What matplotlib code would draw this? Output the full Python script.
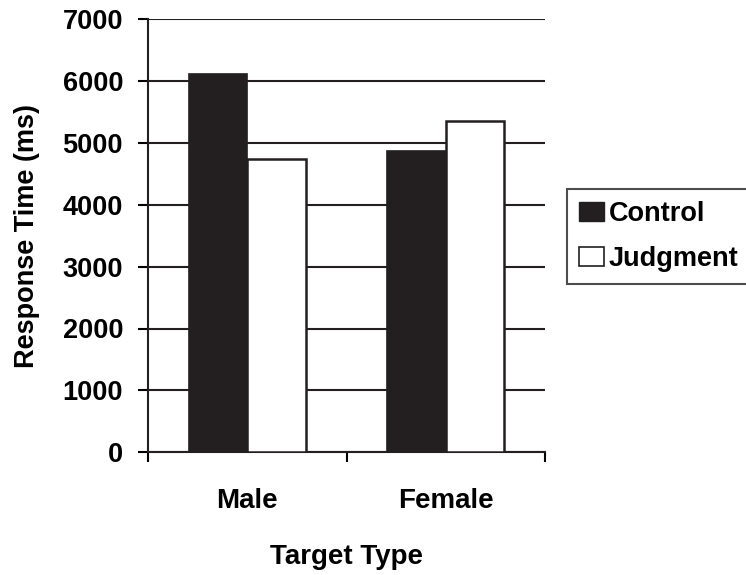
import numpy as np
import matplotlib.pyplot as plt
from matplotlib.patches import Patch

plt.rcParams['font.family'] = ['Liberation Sans', 'DejaVu Sans']
plt.rcParams['font.weight'] = 'bold'

# dados
categorias = ['Male', 'Female']
controle = [6105, 4875]
julgamento = [4745, 5350]
series = ['Control', 'Judgment']
yticks = [0, 1000, 2000, 3000, 4000, 5000, 6000, 7000]

escuro = '#231f20'

fig = plt.figure(figsize=(7.46, 5.75), dpi=100)
ax = fig.add_axes([148 / 746, 1 - 452.3 / 575, 397 / 746, 433.3 / 575])

x = np.arange(len(categorias))
w = 0.294
ax.bar(x - w / 2, controle, w, color=escuro, edgecolor=escuro, linewidth=1.2, zorder=3)
ax.bar(x + w / 2, julgamento, w, color='white', edgecolor=escuro, linewidth=1.8, zorder=3)

ax.set_xlim(-0.5, 1.5)
ax.set_ylim(0, 7000)
ax.set_yticks(yticks)
ax.set_xticks([-0.5, 0.5, 1.5])
ax.set_xticklabels([])
ax.set_xticks(x, minor=True)
ax.set_xticklabels(categorias, minor=True)
ax.tick_params(axis='x', which='minor', length=0, pad=26, labelsize=20)
ax.tick_params(axis='x', which='major', length=7, width=1.5, direction='out')
ax.tick_params(axis='y', length=7, width=1.5, direction='out', labelsize=19.5, pad=11)

ax.grid(axis='y', color=escuro, linewidth=1.5, zorder=0)
ax.set_axisbelow(True)
for s in ['top', 'right']:
    ax.spines[s].set_visible(False)
for s in ['left', 'bottom']:
    ax.spines[s].set_linewidth(1.5)
    ax.spines[s].set_color(escuro)

ax.set_ylabel('Response Time (ms)', fontsize=19.5, fontweight='bold', labelpad=16)
ax.set_xlabel('Target Type', fontsize=20, fontweight='bold', labelpad=21)

handles = [Patch(facecolor=escuro, edgecolor=escuro),
           Patch(facecolor='white', edgecolor=escuro, linewidth=1.2)]
leg = fig.legend(handles, series, loc='upper left', bbox_to_anchor=(567 / 746, 1 - 189 / 575),
                 fontsize=19.5, frameon=True, fancybox=False, edgecolor=escuro,
                 handlelength=0.9, handleheight=0.7, handletextpad=0.2,
                 borderpad=0.45, labelspacing=0.7, borderaxespad=0)
leg.get_frame().set_linewidth(1.5)

plt.savefig('out.png', dpi=100)
